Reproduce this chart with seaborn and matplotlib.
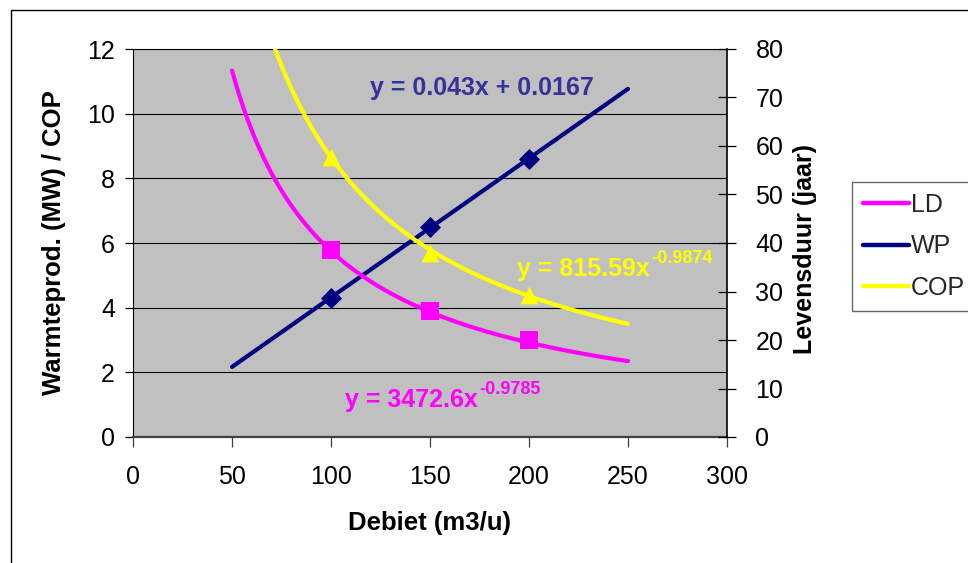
import numpy as np
import pandas as pd
import matplotlib
matplotlib.use("Agg")
import matplotlib.pyplot as plt
from matplotlib.lines import Line2D
from matplotlib.patches import Rectangle
import seaborn as sns

# Meetpunten per debiet (m3/u)
debiet = [100, 150, 200]
wp_mw = [4.3, 6.5, 8.6]        # warmteproductie (MW), linker as
cop = [8.65, 5.7, 4.4]         # COP, linker as
ld_jaar = [38.6, 26.0, 19.9]   # levensduur (jaar), rechter as

# Trendlijnen volgens de vergelijkingen in de grafiek
wp_slope, wp_intercept = 0.043, 0.0167
cop_coef, cop_exp = 815.59, -0.9874
ld_coef, ld_exp = 3472.6, -0.9785
trend_start, trend_end = 50, 250

x_ticks = [0, 50, 100, 150, 200, 250, 300]
left_ticks = [0, 2, 4, 6, 8, 10, 12]
right_ticks = [0, 10, 20, 30, 40, 50, 60, 70, 80]

series_names = ["LD", "WP", "COP"]
colors = {"LD": "#FF00FF", "WP": "#000080", "COP": "#FFFF00"}
wp_eq_color = "#333399"

sns.set_theme(style="white")
plt.rcParams["font.family"] = ["Liberation Sans", "DejaVu Sans"]

W, H = 968, 563
fig = plt.figure(figsize=(W / 100, H / 100), dpi=100)
fig.patch.set_facecolor("white")

# plotgebied in pixels: x 133..727, y 49..437
px_l, px_r, px_t, px_b = 133, 727, 49, 437
ax = fig.add_axes([px_l / W, 1 - px_b / H, (px_r - px_l) / W, (px_b - px_t) / H])
ax.set_facecolor("#C0C0C0")
ax2 = ax.twinx()
ax2.patch.set_visible(False)

xs = np.linspace(trend_start, trend_end, 400)
trend = pd.DataFrame({
    "x": xs,
    "WP": wp_slope * xs + wp_intercept,
    "COP": cop_coef * xs ** cop_exp,
    "LD": ld_coef * xs ** ld_exp,
})
pts = pd.DataFrame({"x": debiet, "WP": wp_mw, "COP": cop, "LD": ld_jaar})

lw = 3.0
sns.lineplot(data=trend, x="x", y="WP", ax=ax, color=colors["WP"], lw=lw,
             solid_capstyle="round", zorder=3)
sns.scatterplot(data=pts, x="x", y="WP", ax=ax, marker="D", s=115,
                color=colors["WP"], linewidth=0, zorder=4)
sns.lineplot(data=trend, x="x", y="COP", ax=ax, color=colors["COP"], lw=lw,
             solid_capstyle="round", zorder=5)
sns.scatterplot(data=pts, x="x", y="COP", ax=ax, marker="^", s=165,
                color=colors["COP"], linewidth=0, zorder=6)
sns.lineplot(data=trend, x="x", y="LD", ax=ax2, color=colors["LD"], lw=lw,
             solid_capstyle="round", zorder=3)
sns.scatterplot(data=pts, x="x", y="LD", ax=ax2, marker="s", s=155,
                color=colors["LD"], linewidth=0, zorder=4)

ax.set_xlim(0, 300)
ax.set_ylim(0, 12)
ax2.set_ylim(0, 80)
ax.set_xticks(x_ticks)
ax.set_yticks(left_ticks)
ax2.set_yticks(right_ticks)

ax.yaxis.grid(True, color="black", lw=0.8)
ax.xaxis.grid(False)
ax.set_axisbelow(True)

for side in ["left", "top"]:
    ax.spines[side].set_color("black")
    ax.spines[side].set_linewidth(0.8)
ax.spines["bottom"].set_color("#404040")
ax.spines["bottom"].set_linewidth(1.6)
ax.spines["right"].set_visible(False)
for side in ["left", "top", "bottom"]:
    ax2.spines[side].set_visible(False)
ax2.spines["right"].set_color("black")
ax2.spines["right"].set_linewidth(1.2)

fs = 18
ax.tick_params(axis="x", bottom=True, direction="out", length=7, width=0.9,
               color="#404040", pad=13, labelsize=fs, labelcolor="black")
ax.tick_params(axis="y", left=True, direction="out", length=6, width=0.9,
               color="black", pad=7, labelsize=fs, labelcolor="black")
ax2.tick_params(axis="y", right=True, direction="inout", length=13, width=0.9,
                color="black", pad=14, labelsize=fs, labelcolor="black")

ax.set_xlabel("Debiet (m3/u)", fontsize=fs + 0.5, fontweight="bold", color="black")
ax.xaxis.set_label_coords(0.5, -(523 - px_b) / (px_b - px_t))
ax.xaxis.label.set_va("center")
ax.set_ylabel("Warmteprod. (MW) / COP", fontsize=fs + 0.5, fontweight="bold", color="black")
ax.yaxis.set_label_coords((54 - px_l) / (px_r - px_l), 0.5)
ax.yaxis.label.set_va("center")
ax2.set_ylabel("Levensduur (jaar)", fontsize=fs, fontweight="bold", color="black")
ax2.yaxis.set_label_coords((805 - px_l) / (px_r - px_l), 0.485)
ax2.yaxis.label.set_va("center")

# vergelijkingen van de trendlijnen
ax.text(119.7, 10.59, "y = 0.043x + 0.0167", color=wp_eq_color, fontsize=fs,
        fontweight="bold", va="baseline", ha="left", zorder=7)
t_cop = ax.text(194, 4.98, "y = 815.59x", color=colors["COP"], fontsize=fs,
                fontweight="bold", va="baseline", ha="left", zorder=7)
ax.annotate(f"{cop_exp}", xy=(1, 1), xycoords=t_cop, xytext=(1, 5),
            textcoords="offset points", va="top", ha="left", fontsize=13,
            fontweight="bold", color=colors["COP"], zorder=7)
t_ld = ax.text(107, 0.94, "y = 3472.6x", color=colors["LD"], fontsize=fs,
               fontweight="bold", va="baseline", ha="left", zorder=7)
ax.annotate(f"{ld_exp}", xy=(1, 1), xycoords=t_ld, xytext=(1, 5),
            textcoords="offset points", va="top", ha="left", fontsize=13,
            fontweight="bold", color=colors["LD"], zorder=7)

handles = [Line2D([], [], color=colors[n], lw=3.2, solid_capstyle="round")
           for n in series_names]
leg = fig.legend(handles, series_names, loc="upper left",
                 bbox_to_anchor=(852 / W, 1 - 182 / H), frameon=True,
                 fancybox=False, fontsize=fs, handlelength=1.85,
                 handletextpad=0.08, labelspacing=0.7, borderpad=0.43,
                 borderaxespad=0)
leg.get_frame().set_edgecolor("#404040")
leg.get_frame().set_linewidth(1.0)
leg.get_frame().set_facecolor("white")

# kader rond de grafiek
fig.patches.append(Rectangle((11 / W, -0.1), 2.0, (1 - 10 / H) + 0.1,
                             transform=fig.transFigure, fill=False,
                             edgecolor="black", lw=1.0))

fig.savefig("out.png", dpi=100)
